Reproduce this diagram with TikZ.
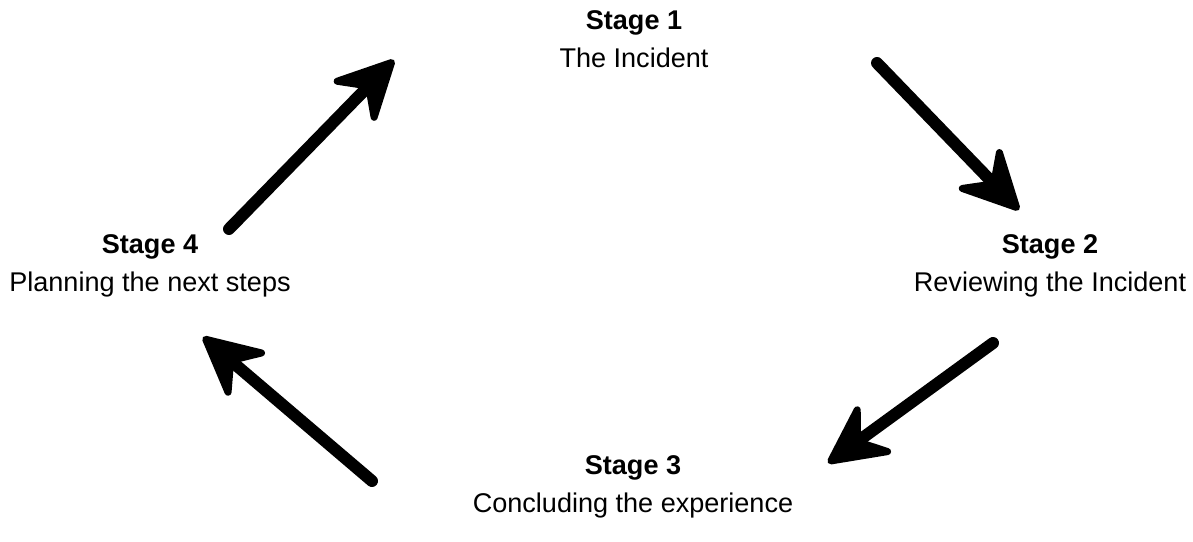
\documentclass[tikz,border=0pt]{standalone}
\usepackage{fontspec}
\setsansfont{Liberation Sans}
\usetikzlibrary{arrows.meta, positioning}

\begin{document}
\begin{tikzpicture}[
    x=0.02cm, y=-0.02cm,
    font=\sffamily\fontsize{15.4}{21.5}\selectfont,
    stage/.style={align=center, inner sep=0pt},
    cycle_arrow/.style={line width=0.24cm, draw=black, line cap=round,
        -{Stealth[length=1.4cm, width=1.4cm, inset=0.5cm, round, line width=4pt]}}
]
\useasboundingbox (0,0) rectangle (1193,541);

% Stages
\node[stage] (stage1) at (634,39) {\textbf{Stage 1}\\The Incident};
\node[stage] (stage2) at (1050,266) {\textbf{Stage 2}\\Reviewing the Incident};
\node[stage] (stage3) at (633,487) {\textbf{Stage 3}\\Concluding the experience};
\node[stage] (stage4) at (150,266) {\textbf{Stage 4}\\Planning the next steps};

% Arrow ends
\coordinate (a1s) at (229,229);  \coordinate (a1e) at (394,60);
\coordinate (a2s) at (877,63);   \coordinate (a2e) at (1019,210);
\coordinate (a3s) at (993,343);  \coordinate (a3e) at (828,463);
\coordinate (a4s) at (372,481);  \coordinate (a4e) at (203,337);

% Cycle
\draw[cycle_arrow] (a1s) -- (a1e);
\draw[cycle_arrow] (a2s) -- (a2e);
\draw[cycle_arrow] (a3s) -- (a3e);
\draw[cycle_arrow] (a4s) -- (a4e);

\end{tikzpicture}
\end{document}
